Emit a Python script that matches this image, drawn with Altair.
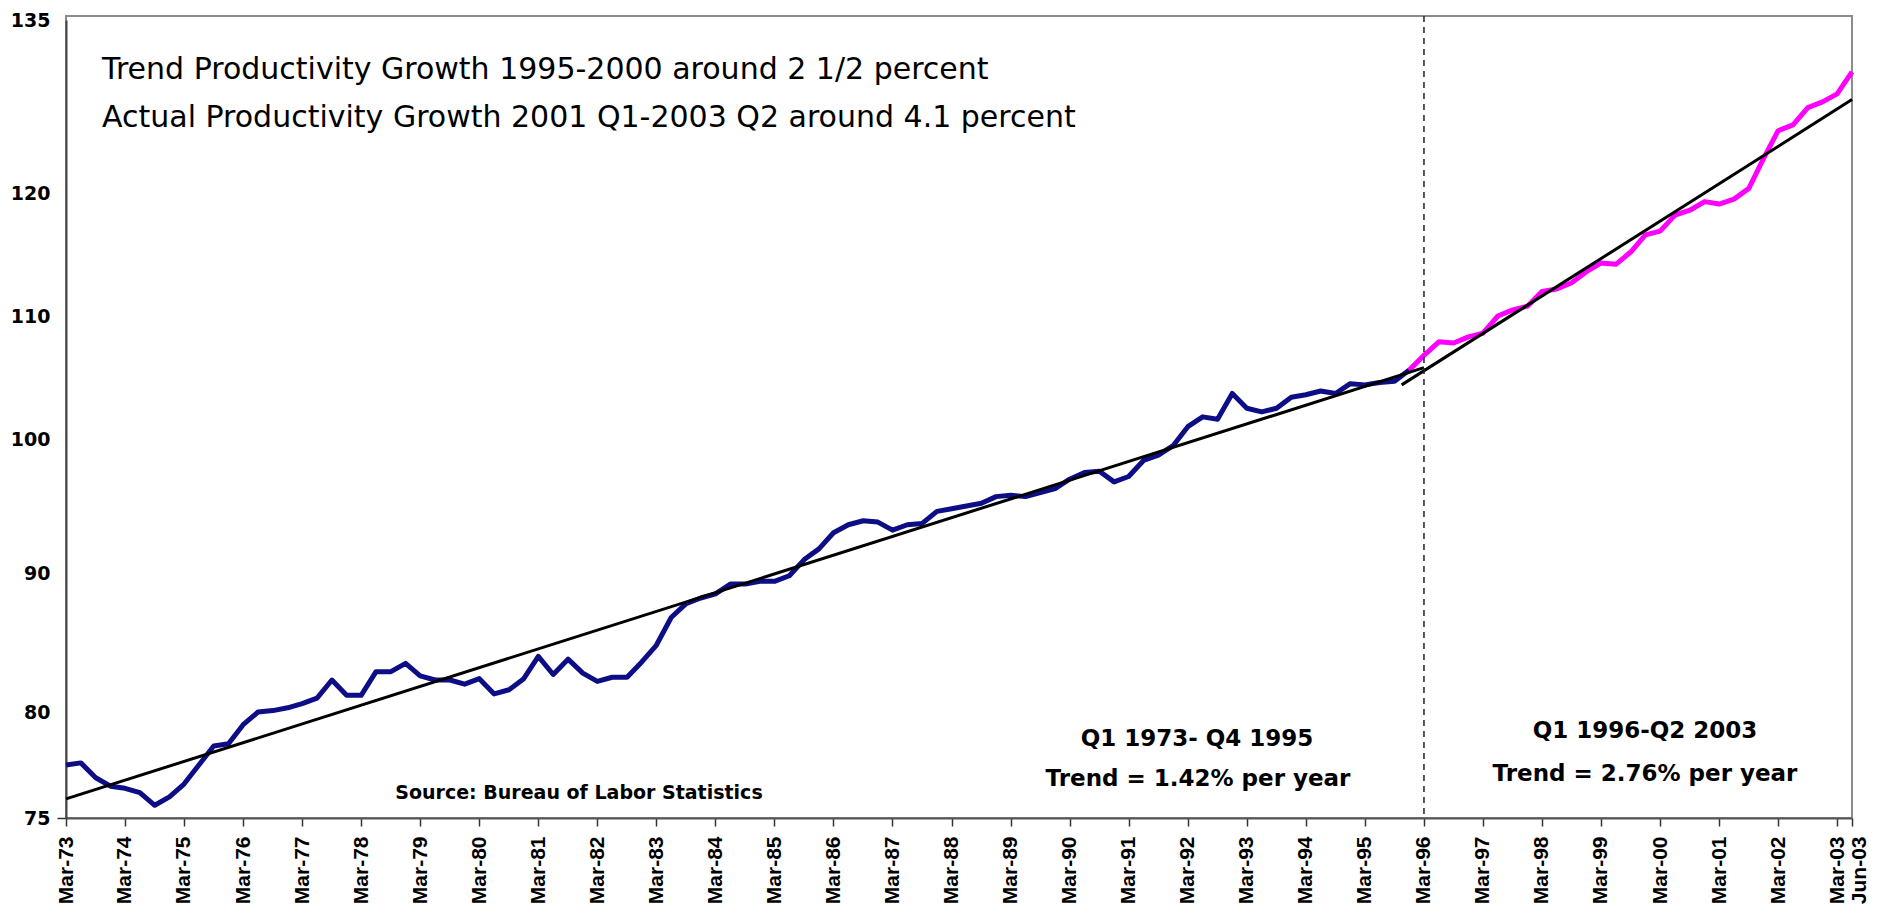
import altair as alt
import pandas as pd

# ---------------- data ----------------
# quarterly index: Q1 1973 (Mar-73) ... Q2 2003 (Jun-03)
first_year = 1973

# Output per hour index, Q1 1973 - Q4 1995 (blue)
blue_values = [
    77.5, 77.6, 76.9, 76.5, 76.4, 76.2, 75.6, 76.0,
    76.6, 77.5, 78.4, 78.5, 79.4, 80.0, 80.1, 80.3,
    80.6, 81.0, 82.3, 81.2, 81.2, 82.9, 82.9, 83.5,
    82.6, 82.3, 82.3, 82.0, 82.4, 81.3, 81.6, 82.4,
    84.0, 82.7, 83.8, 82.8, 82.2, 82.5, 82.5, 83.6,
    84.8, 86.8, 87.8, 88.2, 88.5, 89.2, 89.2, 89.4,
    89.4, 89.8, 91.0, 91.8, 93.0, 93.6, 93.9, 93.8,
    93.2, 93.6, 93.7, 94.6, 94.8, 95.0, 95.2, 95.7,
    95.8, 95.7, 96.0, 96.3, 97.0, 97.5, 97.6, 96.8,
    97.2, 98.4, 98.8, 99.5, 101.0, 101.8, 101.6, 103.7,
    102.5, 102.2, 102.5, 103.4, 103.6, 103.9, 103.7, 104.5,
    104.4, 104.6, 104.7, 105.6,
]

# Q4 1995 - Q2 2003 (magenta)
magenta_start_index = 91
magenta_values = [
    105.6, 106.8, 107.9, 107.8, 108.3, 108.6, 110.0, 110.5,
    110.8, 112.0, 112.2, 112.7, 113.6, 114.3, 114.2, 115.2,
    116.6, 116.9, 118.2, 118.6, 119.3, 119.1, 119.5, 120.4,
    123.0, 125.4, 125.9, 127.4, 127.9, 128.6, 130.5,
]

# fitted trend lines (end points)
trend1_dates = ["1973-03-01", "1996-03-01"]
trend1_values = [75.9, 105.8]
trend2_dates = ["1995-10-15", "2003-06-01"]
trend2_values = [104.4, 128.1]

break_date = ["1996-03-01"]

y_ticks = [75, 80, 90, 100, 110, 120, 135]
x_tick_years = list(range(1973, 2004))

title_lines = [
    "Trend Productivity Growth 1995-2000 around 2 1/2 percent",
    "Actual Productivity Growth 2001 Q1-2003 Q2 around 4.1 percent",
]
source_text = "Source: Bureau of Labor Statistics"
period1_lines = ["Q1 1973- Q4 1995", "Trend = 1.42% per year"]
period2_lines = ["Q1 1996-Q2 2003", "Trend = 2.76% per year"]


def quarter_date(i):
    y = first_year + i // 4
    m = 3 + 3 * (i % 4)
    return f"{y}-{m:02d}-01"


blue_df = pd.DataFrame({
    "date": [quarter_date(i) for i in range(len(blue_values))],
    "value": blue_values,
})
magenta_df = pd.DataFrame({
    "date": [quarter_date(magenta_start_index + i) for i in range(len(magenta_values))],
    "value": magenta_values,
})
trend1_df = pd.DataFrame({"date": trend1_dates, "value": trend1_values})
trend2_df = pd.DataFrame({"date": trend2_dates, "value": trend2_values})
break_df = pd.DataFrame({"date": break_date})

# ---------------- geometry / style ----------------
W, H = 1786, 802
FONT = "DejaVu Sans"
XFONT = "Liberation Sans"

x_scale = alt.Scale(
    type="utc",
    domain=[alt.DateTime(year=1973, month=3, date=1, utc=True),
            alt.DateTime(year=2003, month=6, date=1, utc=True)],
)
y_scale = alt.Scale(
    domain=y_ticks,
    range=[802, 696, 557, 423, 300, 177, 4],
    zero=False,
    nice=False,
)

x_tick_values = [alt.DateTime(year=y, month=3, date=1, utc=True) for y in x_tick_years]
x_tick_values.append(alt.DateTime(year=2003, month=6, date=1, utc=True))

x_axis = alt.Axis(
    values=x_tick_values,
    labelExpr="utcFormat(datum.value, '%b-%y')",
    labelAngle=270,
    labelAlign="right",
    labelBaseline="middle",
    labelFont=XFONT,
    labelFontWeight="bold",
    labelFontSize=21,
    labelColor="black",
    labelPadding=10,
    labelOffset={"condition": {"test": "utcmonth(datum.value) == 5", "value": 7}, "value": 0},
    labelOverlap=False,
    labelFlush=False,
    tickSize=8,
    tickWidth=1.5,
    tickColor="#333333",
    domainColor="#555555",
    domainWidth=2,
    grid=False,
    title=None,
)
y_axis = alt.Axis(
    values=y_ticks,
    labelFont=FONT,
    labelFontWeight="bold",
    labelFontSize=19,
    labelColor="black",
    labelPadding=7,
    tickSize=9,
    tickWidth=1.5,
    tickColor="#333333",
    tickOpacity={"condition": {"test": "datum.value == 75", "value": 1}, "value": 0},
    domainColor="#444444",
    domainWidth=2,
    grid=False,
    title=None,
)

X = alt.X("date:T", scale=x_scale, axis=x_axis)
Y = alt.Y("value:Q", scale=y_scale, axis=y_axis)

blue = alt.Chart(blue_df).mark_line(color="#0d0d86", strokeWidth=5, strokeJoin="round").encode(x=X, y=Y)
magenta = alt.Chart(magenta_df).mark_line(color="#ff00ff", strokeWidth=5, strokeJoin="round").encode(x=X, y=Y)
trend1 = alt.Chart(trend1_df).mark_line(color="black", strokeWidth=3).encode(x=X, y=Y)
trend2 = alt.Chart(trend2_df).mark_line(color="black", strokeWidth=3).encode(x=X, y=Y)
rule = alt.Chart(break_df).mark_rule(color="#222222", strokeWidth=1.5, strokeDash=[6, 5]).encode(x=X)


def text_layer(txt, x, y, size, weight="normal", align="left"):
    return alt.Chart(pd.DataFrame({"t": [txt]})).mark_text(
        font=FONT, fontSize=size, fontWeight=weight, align=align,
        baseline="middle", color="black",
    ).encode(x=alt.value(x), y=alt.value(y), text="t:N")


texts = [
    text_layer(title_lines[0], 36, 53.5, 30),
    text_layer(title_lines[1], 36, 101.5, 30),
    text_layer(source_text, 513, 777, 19, "bold", "center"),
    text_layer(period1_lines[0], 1131, 723, 23, "bold", "center"),
    text_layer(period1_lines[1], 1132, 763, 23, "bold", "center"),
    text_layer(period2_lines[0], 1579, 715, 23, "bold", "center"),
    text_layer(period2_lines[1], 1579, 758, 23, "bold", "center"),
]

chart = alt.layer(blue, magenta, trend1, trend2, rule, *texts).properties(
    width=W,
    height=H,
    autosize=alt.AutoSizeParams(type="none"),
    padding={"left": 58, "top": 8, "right": 19, "bottom": 87},
    background="white",
).configure_view(
    stroke="#8c8c8c",
    strokeWidth=2,
)

chart.save("out.html", embed_options={"renderer": "svg", "actions": False})
